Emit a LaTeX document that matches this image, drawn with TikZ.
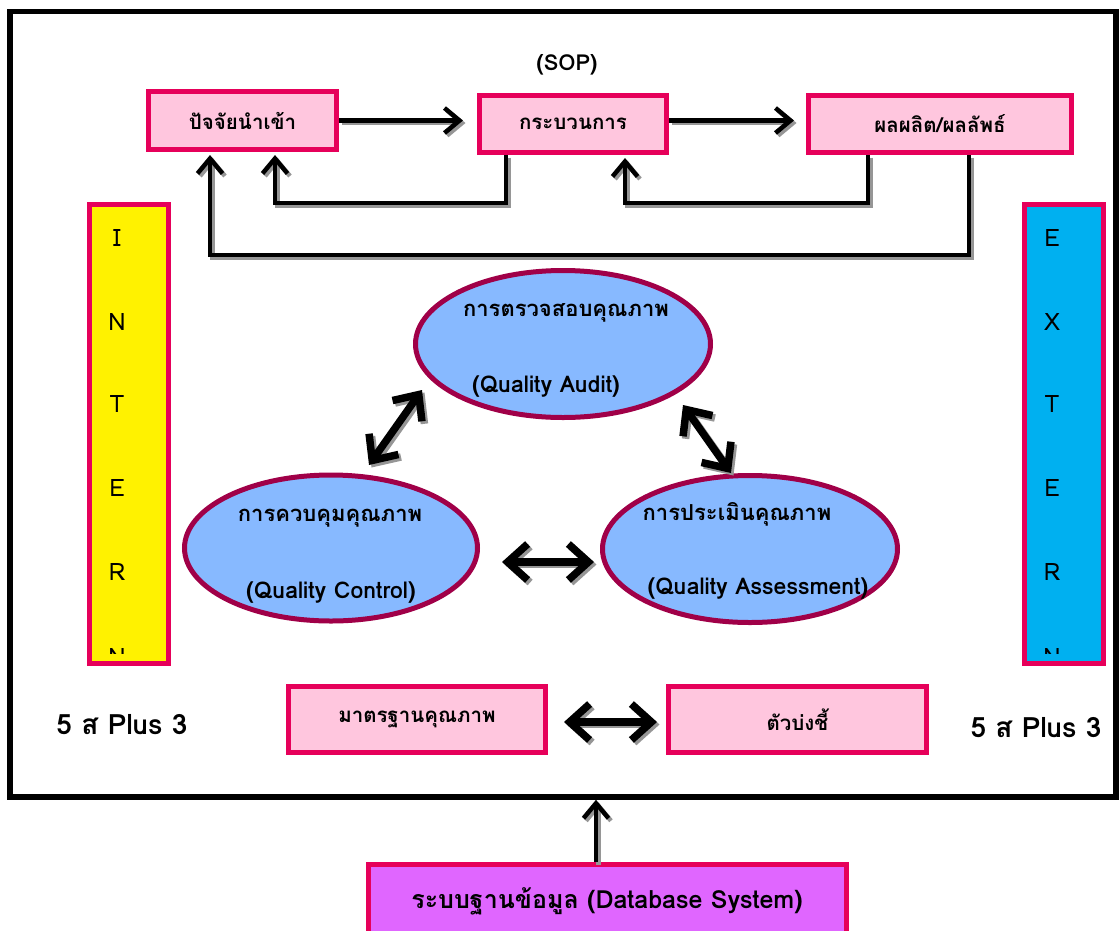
\documentclass[tikz,border=0pt]{standalone}
\usepackage{fontspec}
\setmainfont[Script=Thai]{Loma}
\usetikzlibrary{arrows.meta,shapes.geometric}
\definecolor{bxline}{RGB}{230,0,90}
\definecolor{bxfill}{RGB}{255,198,222}
\definecolor{elline}{RGB}{160,0,72}
\definecolor{elfill}{RGB}{135,185,255}
\definecolor{barcyan}{RGB}{0,176,240}
\definecolor{dbfill}{RGB}{224,102,255}
\definecolor{shd}{RGB}{150,150,150}
\newcommand{\shadowdraw}[2]{%
  \draw[#1,shd,transform canvas={shift={(2.5pt,-2.5pt)}}] #2;
  \draw[#1] #2;}
\begin{document}
\begin{tikzpicture}[x=1pt,y=-1pt,
  box/.style={draw=bxline, fill=bxfill, line width=5pt, inner sep=0pt, font=\bfseries\fontsize{20.5}{23}\selectfont},
  ell/.style={ellipse, draw=elline, fill=elfill, line width=5pt, inner sep=0pt},
  eltext/.style={font=\bfseries\fontsize{22}{24}\selectfont},
  eltextl/.style={font=\bfseries\fontsize{23}{25}\selectfont},
  bartext/.style={font=\fontsize{24}{26}\selectfont},
  plustext/.style={font=\bfseries\fontsize{28}{30}\selectfont},
  flow/.style={line width=4.5pt, -{Straight Barb[length=15pt,width=25pt]}},
  dbl/.style={line width=7.5pt, {Straight Barb[length=20pt,width=36pt]}-{Straight Barb[length=20pt,width=36pt]}}
]
\useasboundingbox (0,0) rectangle (1120,930);
\clip (0,0) rectangle (1120,930);
\fill[white] (0,0) rectangle (1120,930);
% frame
\node[draw, line width=5.5pt, minimum width=1106pt, minimum height=785.5pt, inner sep=0pt] (frame) at (563,404.25) {};
% SOP
\node[font=\bfseries\fontsize{22}{24}\selectfont] (sop) at (567,65) {(SOP)};
% top boxes
\node[box, minimum width=188pt, minimum height=58pt] (b1) at (242.5,120.5) {ปัจจัยนำเข้า};
\node[box, minimum width=187pt, minimum height=57pt] (b2) at (573,124) {กระบวนการ};
\node[box, minimum width=263pt, minimum height=57pt] (b3) at (940,124) {ผลผลิต/ผลลัพธ์};
% flow arrows
\shadowdraw{flow, shorten >=14pt}{(b1.east) -- (b1.east -| b2.west)}
\shadowdraw{flow, shorten >=12pt}{(b2.east |- b1.east) -- (b1.east -| b3.west)}
\shadowdraw{flow, shorten >=3pt}{(506,0 |- b2.south) -- (506,203) -- (275,203) -- (275,0 |- b1.south)}
\shadowdraw{flow, shorten >=3pt}{(868,0 |- b3.south) -- (868,203) -- (625,203) -- (625,0 |- b2.south)}
\shadowdraw{flow, shorten >=3pt}{(969,0 |- b3.south) -- (969,255) -- (210,255) -- (210,0 |- b1.south)}
% side bars
\node[draw=bxline, fill=yellow, line width=5pt, minimum width=79pt, minimum height=459pt, inner sep=0pt] (ybar) at (129,434) {};
\node[draw=bxline, fill=barcyan, line width=5pt, minimum width=79pt, minimum height=459pt, inner sep=0pt] (cbar) at (1064,434) {};
\begin{scope}
\clip (90,205) rectangle (168,653);
\node[bartext] (i1) at (117,238) {I};
\node[bartext] (i2) at (117,322) {N};
\node[bartext] (i3) at (117,404) {T};
\node[bartext] (i4) at (117,488) {E};
\node[bartext] (i5) at (117,572) {R};
\node[bartext] (i6) at (117,657) {N};
\end{scope}
\begin{scope}
\clip (1025,205) rectangle (1103,653);
\node[bartext] (e1) at (1052,238) {E};
\node[bartext] (e2) at (1052,322) {X};
\node[bartext] (e3) at (1052,404) {T};
\node[bartext] (e4) at (1052,488) {E};
\node[bartext] (e5) at (1052,572) {R};
\node[bartext] (e6) at (1052,657) {N};
\end{scope}
% ellipses
\node[ell, minimum width=295pt, minimum height=147pt] (qa) at (563,344) {};
\node[ell, minimum width=293pt, minimum height=146pt] (qc) at (331,548) {};
\node[ell, minimum width=295pt, minimum height=147pt] (qs) at (750,549) {};
\node[eltext] (qat) at (566,313) {การตรวจสอบคุณภาพ};
\node[eltextl] (qae) at (546,387) {(Quality Audit)};
\node[eltext] (qct) at (330,518) {การควบคุมคุณภาพ};
\node[eltextl] (qce) at (331,593) {(Quality Control)};
\node[eltext] (qst) at (737,514) {การประเมินคุณภาพ};
\node[eltextl] (qse) at (758,589) {(Quality Assessment)};
% double arrows
\coordinate (ac1) at (422,390);
\coordinate (ac2) at (369,465);
\coordinate (as1) at (683,405);
\coordinate (as2) at (731,473);
\coordinate (cs1) at (502,562);
\coordinate (cs2) at (594,562);
\shadowdraw{dbl}{(ac1) -- (ac2)}
\shadowdraw{dbl}{(as1) -- (as2)}
\shadowdraw{dbl}{(cs1) -- (cs2)}
% bottom boxes
\node[box, minimum width=257pt, minimum height=66pt] (std) at (417,719.5) {มาตรฐานคุณภาพ};
\node[box, minimum width=258pt, minimum height=66pt] (ind) at (797.5,719.5) {ตัวบ่งชี้};
\coordinate (sd1) at (564,722);
\coordinate (sd2) at (657,722);
\shadowdraw{dbl}{(sd1) -- (sd2)}
\node[plustext] (pl) at (122,725) {5 ส Plus 3};
\node[plustext] (pr) at (1036,728) {5 ส Plus 3};
% database
\node[draw=bxline, fill=dbfill, line width=5pt, minimum width=478pt, minimum height=110pt, inner sep=0pt] (db) at (607.5,919.5) {};
\node[font=\bfseries\fontsize{25}{28}\selectfont] (dbt) at (607,901) {ระบบฐานข้อมูล (Database System)};
\shadowdraw{flow}{(596,0 |- db.north) -- (596,0 |- frame.south)}
\end{tikzpicture}
\end{document}
